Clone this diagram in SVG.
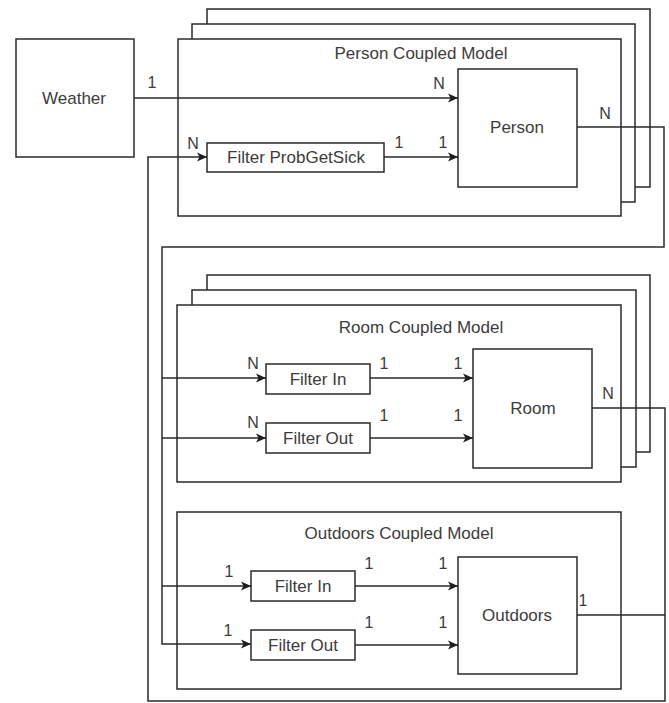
<svg xmlns="http://www.w3.org/2000/svg" width="669" height="703" viewBox="0 0 669 703">
  <style>
    .box { fill: #ffffff; stroke: #2a2a2a; stroke-width: 1.5; }
    .wire { fill: none; stroke: #2a2a2a; stroke-width: 1.5; }
    .lbl { font-family: "Liberation Sans", Arial, sans-serif; font-size: 17px; fill: #3c3c3c; text-anchor: middle; }
    .card { font-family: "Liberation Sans", Arial, sans-serif; font-size: 16px; fill: #3c3c3c; text-anchor: middle; }
  </style>
  <defs>
    <marker id="arrow" viewBox="0 0 10 10" refX="10" refY="5" markerWidth="10" markerHeight="10" markerUnits="userSpaceOnUse" orient="auto">
      <path d="M0,0.5 L10,5 L0,9.5 L2.5,5 Z" fill="#1e1e1e"/>
    </marker>
  </defs>
  <rect width="669" height="703" fill="#ffffff"/>

  <!-- Weather -->
  <g id="weather">
    <rect class="box" x="16" y="39" width="118" height="118"/>
    <text class="lbl" x="74" y="104">Weather</text>
  </g>

  <!-- Person coupled model (stacked instances) -->
  <g id="person-coupled">
    <rect class="box" x="207" y="9" width="443" height="178"/>
    <rect class="box" x="192" y="24" width="443" height="178"/>
    <rect class="box" x="178" y="39" width="443" height="177"/>
    <text class="lbl" x="421" y="59">Person Coupled Model</text>
  </g>
  <g id="filter-probgetsick">
    <rect class="box" x="207" y="143" width="177" height="29"/>
    <text class="lbl" x="296" y="163">Filter ProbGetSick</text>
  </g>
  <g id="person">
    <rect class="box" x="458" y="69" width="119" height="118"/>
    <text class="lbl" x="517" y="133">Person</text>
  </g>

  <!-- Room coupled model (stacked instances) -->
  <g id="room-coupled">
    <rect class="box" x="207" y="275" width="443" height="177"/>
    <rect class="box" x="192" y="290" width="444" height="177"/>
    <rect class="box" x="177" y="305" width="444" height="177"/>
    <text class="lbl" x="421" y="333">Room Coupled Model</text>
  </g>
  <g id="room-filter-in">
    <rect class="box" x="266" y="364" width="104" height="30"/>
    <text class="lbl" x="318" y="385">Filter In</text>
  </g>
  <g id="room-filter-out">
    <rect class="box" x="266" y="423" width="104" height="30"/>
    <text class="lbl" x="318" y="444">Filter Out</text>
  </g>
  <g id="room">
    <rect class="box" x="473" y="349" width="119" height="119"/>
    <text class="lbl" x="533" y="414">Room</text>
  </g>

  <!-- Outdoors coupled model -->
  <g id="outdoors-coupled">
    <rect class="box" x="177" y="512" width="444" height="177"/>
    <text class="lbl" x="399" y="539">Outdoors Coupled Model</text>
  </g>
  <g id="outdoors-filter-in">
    <rect class="box" x="251" y="571" width="104" height="30"/>
    <text class="lbl" x="303" y="592">Filter In</text>
  </g>
  <g id="outdoors-filter-out">
    <rect class="box" x="251" y="630" width="104" height="30"/>
    <text class="lbl" x="303" y="651">Filter Out</text>
  </g>
  <g id="outdoors">
    <rect class="box" x="458" y="557" width="119" height="117"/>
    <text class="lbl" x="517" y="621">Outdoors</text>
  </g>

  <!-- Connectors -->
  <g id="connectors">
    <path class="wire" d="M134,98 H458" marker-end="url(#arrow)"/>
    <path class="wire" d="M384,157 H458" marker-end="url(#arrow)"/>
    <path class="wire" d="M577,127 H664 V247 H162 V644 H251" marker-end="url(#arrow)"/>
    <path class="wire" d="M162,378 H266" marker-end="url(#arrow)"/>
    <path class="wire" d="M162,438 H266" marker-end="url(#arrow)"/>
    <path class="wire" d="M162,586 H251" marker-end="url(#arrow)"/>
    <path class="wire" d="M370,378 H473" marker-end="url(#arrow)"/>
    <path class="wire" d="M370,438 H473" marker-end="url(#arrow)"/>
    <path class="wire" d="M355,586 H458" marker-end="url(#arrow)"/>
    <path class="wire" d="M355,645 H458" marker-end="url(#arrow)"/>
    <path class="wire" d="M592,408 H665 V701 H148 V157 H207" marker-end="url(#arrow)"/>
    <path class="wire" d="M577,615 H665"/>

    <!-- multiplicities -->
    <text class="card" x="152" y="88">1</text>
    <text class="card" x="439" y="89">N</text>
    <text class="card" x="193" y="149">N</text>
    <text class="card" x="399" y="148">1</text>
    <text class="card" x="443" y="148">1</text>
    <text class="card" x="605" y="119">N</text>

    <text class="card" x="253" y="369">N</text>
    <text class="card" x="384" y="369">1</text>
    <text class="card" x="458" y="369">1</text>
    <text class="card" x="253" y="428">N</text>
    <text class="card" x="384" y="421">1</text>
    <text class="card" x="458" y="421">1</text>
    <text class="card" x="608" y="399">N</text>

    <text class="card" x="229" y="577">1</text>
    <text class="card" x="369" y="569">1</text>
    <text class="card" x="443" y="569">1</text>
    <text class="card" x="228" y="636">1</text>
    <text class="card" x="369" y="628">1</text>
    <text class="card" x="443" y="628">1</text>
    <text class="card" x="583" y="606">1</text>
  </g>
</svg>
